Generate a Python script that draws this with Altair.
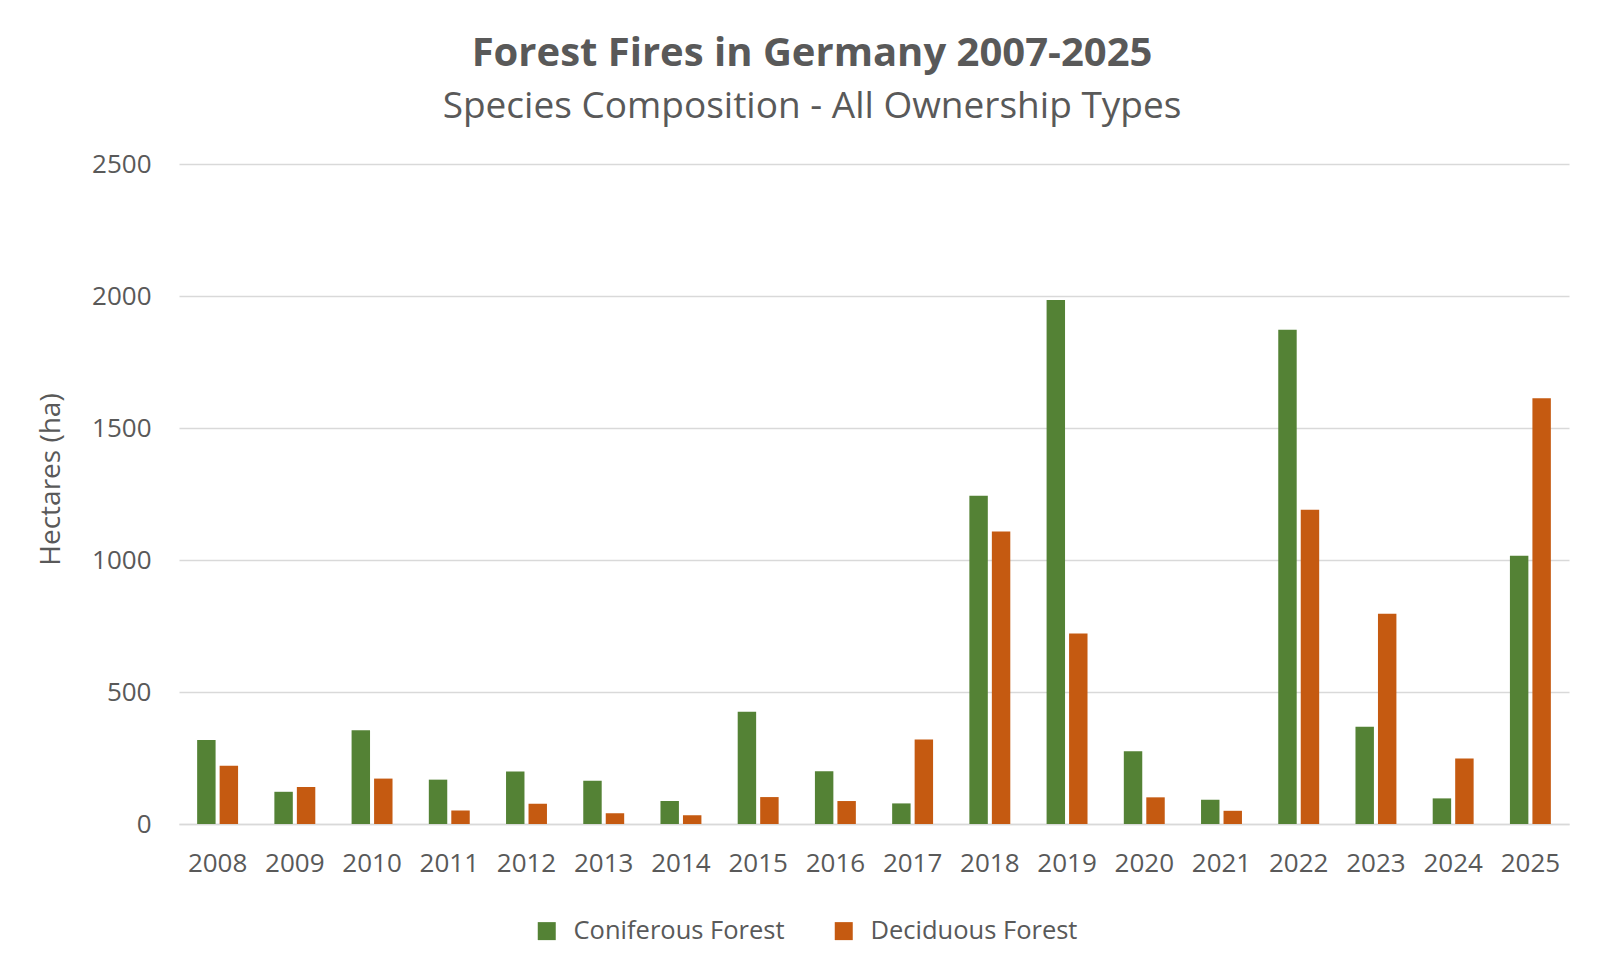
import altair as alt
import pandas as pd

years = ["2008", "2009", "2010", "2011", "2012", "2013", "2014", "2015", "2016",
         "2017", "2018", "2019", "2020", "2021", "2022", "2023", "2024", "2025"]
coniferous = [318, 122, 355, 168, 199, 164, 87, 425, 200, 78, 1243, 1985, 276, 92, 1872, 368, 97, 1016]
deciduous = [221, 140, 172, 51, 77, 41, 33, 102, 87, 320, 1108, 722, 101, 50, 1190, 796, 248, 1613]
series = ["Coniferous Forest", "Deciduous Forest"]
colors = ["#548235", "#C55A11"]

rows = []
for y, c, d in zip(years, coniferous, deciduous):
    rows.append({"year": y, "type": series[0], "ha": c})
    rows.append({"year": y, "type": series[1], "ha": d})
df = pd.DataFrame(rows)

FONT = "Open Sans"
TXT = "#595959"

chart = alt.Chart(df).mark_bar().encode(
    x=alt.X("year:N", sort=years,
            scale=alt.Scale(paddingInner=0.47, paddingOuter=0.235),
            axis=alt.Axis(title=None, labelAngle=0, labelFontSize=26, labelColor=TXT,
                          labelFont=FONT, ticks=False, domain=True, domainColor="#d9d9d9",
                          domainWidth=1.5, labelPadding=26, grid=False)),
    xOffset=alt.XOffset("type:N", sort=series, scale=alt.Scale(paddingInner=0.18)),
    y=alt.Y("ha:Q",
            scale=alt.Scale(domain=[0, 2500], nice=False),
            axis=alt.Axis(title="Hectares (ha)", values=[0, 500, 1000, 1500, 2000, 2500],
                          format="d",
                          labelFontSize=26, labelColor=TXT, labelFont=FONT,
                          titleFontSize=28, titleColor=TXT, titleFont=FONT,
                          titleFontWeight="normal",
                          titleX=-128, titleY=315, titleAngle=270,
                          titleAlign="center", titleBaseline="middle",
                          ticks=False, domain=False, labelPadding=28,
                          gridColor="#d9d9d9", gridWidth=1.5)),
    color=alt.Color("type:N", sort=series,
                    scale=alt.Scale(domain=series, range=colors),
                    legend=alt.Legend(title=None, orient="none", direction="horizontal",
                                      legendX=355, legendY=754,
                                      symbolType="square", symbolSize=324,
                                      symbolStrokeWidth=0, labelFontSize=25.5,
                                      labelColor=TXT, labelFont=FONT, labelLimit=400,
                                      labelOffset=14, columnPadding=46)),
).properties(
    width=1390,
    height=660,
    background="white",
    title=alt.TitleParams(
        text="Forest Fires in Germany 2007-2025",
        subtitle="Species Composition - All Ownership Types",
        anchor="middle", frame="group", dx=-62,
        font=FONT, fontSize=40, fontWeight="bold", color=TXT,
        subtitleFont=FONT, subtitleFontSize=37, subtitleColor=TXT,
        subtitlePadding=15, offset=26,
    ),
    autosize=alt.AutoSizeParams(type="none"),
    padding={"left": 171, "top": 156, "right": 29, "bottom": 147},
).configure_view(
    stroke=None
)

chart.save("out.html", embed_options={"renderer": "svg", "actions": False})
